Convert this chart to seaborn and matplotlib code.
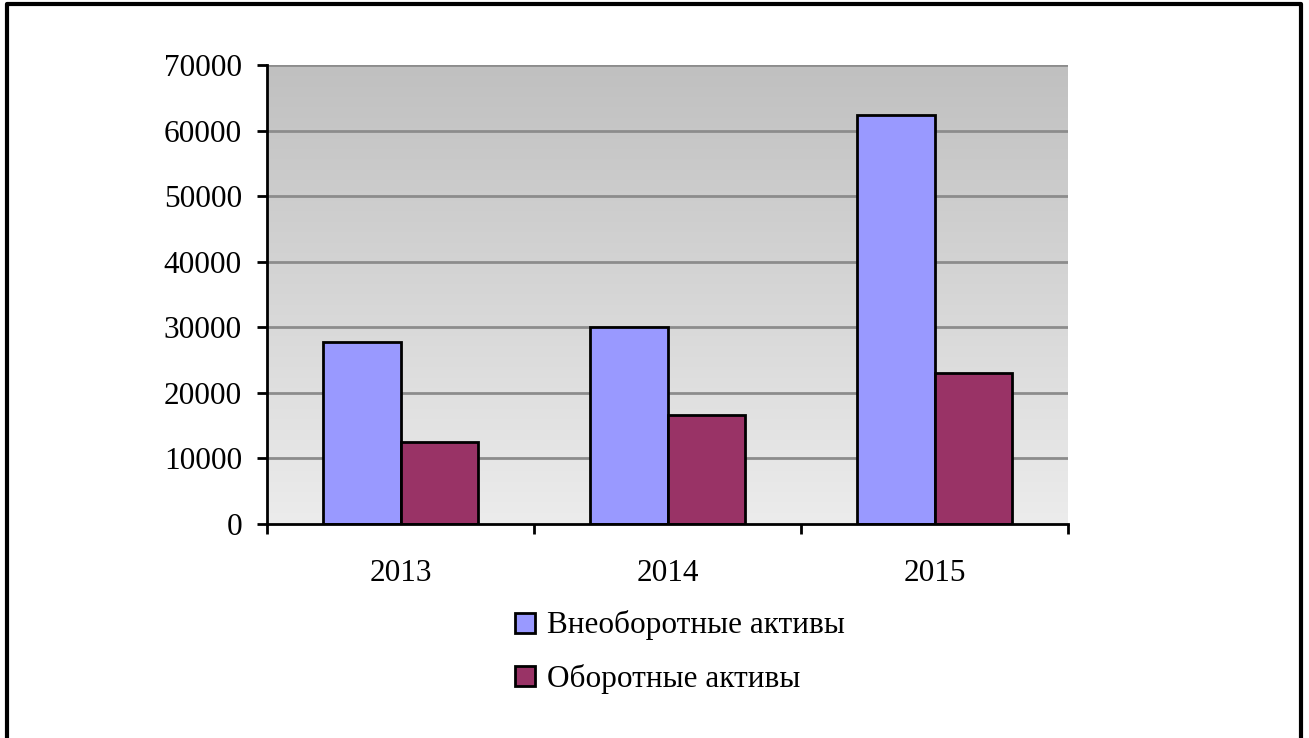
import numpy as np
import pandas as pd
import matplotlib
matplotlib.use("Agg")
import matplotlib.pyplot as plt
import seaborn as sns
from matplotlib.lines import Line2D
from matplotlib.colors import LinearSegmentedColormap

years = ["2013", "2014", "2015"]
series_names = ["Внеоборотные активы", "Оборотные активы"]
non_current = [27800, 30000, 62400]
current = [12550, 16600, 23000]
y_ticks = [0, 10000, 20000, 30000, 40000, 50000, 60000, 70000]
colors = ["#9999FF", "#993366"]

df = pd.DataFrame({
    "year": years * 2,
    "series": [series_names[0]] * 3 + [series_names[1]] * 3,
    "value": non_current + current,
})

sns.set_theme(style="white")
plt.rcParams["font.family"] = ["Liberation Serif", "DejaVu Serif"]
plt.rcParams["text.color"] = "black"
plt.rcParams["xtick.color"] = "black"
plt.rcParams["ytick.color"] = "black"
plt.rcParams["xtick.labelcolor"] = "black"
plt.rcParams["ytick.labelcolor"] = "black"

FS = 22.5

fig = plt.figure(figsize=(13.09, 7.38), dpi=100)
ax = fig.add_axes([267 / 1309, 1 - 524 / 738, (1068 - 267) / 1309, (524 - 65) / 738])

# gradient background of plot area
grad = np.linspace(0, 1, 256).reshape(-1, 1)
cmap = LinearSegmentedColormap.from_list("g", ["#c0c0c0", "#ececec"])
ax.imshow(grad, extent=[0, 1, 0, 1], transform=ax.transAxes, aspect="auto",
          cmap=cmap, zorder=0, interpolation="bilinear")

sns.barplot(data=df, x="year", y="value", hue="series", palette=colors,
            saturation=1, width=0.577, edgecolor="black", linewidth=2, ax=ax,
            zorder=3, legend=False)

ax.set_xlim(-0.5, 2.5)
ax.set_ylim(0, 70000)
ax.set_yticks(y_ticks)
ax.set_yticklabels([str(v) for v in y_ticks], fontsize=FS)
for v in y_ticks[1:]:
    ax.axhline(v, color="#8c8c8c", linewidth=2, zorder=1)

ax.set_xticks([0, 1, 2])
ax.set_xticklabels(years, fontsize=FS)
ax.tick_params(axis="x", which="major", length=0, pad=25)
ax.set_xticks([-0.5, 0.5, 1.5, 2.5], minor=True)
ax.tick_params(axis="x", which="minor", length=7, width=2, color="black", bottom=True)
ax.tick_params(axis="y", which="major", length=7, width=2, color="black", left=True, pad=11)
ax.set_xlabel("")
ax.set_ylabel("")
for s in ["top", "right"]:
    ax.spines[s].set_visible(False)
for s in ["left", "bottom"]:
    ax.spines[s].set_color("black")
    ax.spines[s].set_linewidth(2)
    ax.spines[s].set_zorder(5)

handles = [Line2D([0], [0], marker="s", linestyle="none", markersize=14,
                  markerfacecolor=c, markeredgecolor="black", markeredgewidth=2)
           for c in colors]
fig.legend(handles, series_names, loc="upper left",
           bbox_to_anchor=(497 / 1309, 1 - 598 / 738), frameon=False,
           fontsize=FS, handletextpad=0.2, labelspacing=0.75, borderaxespad=0,
           handlelength=1.0)

# outer border (top, left, right)
fig.add_artist(Line2D([7 / 1309, 7 / 1309, 1301 / 1309, 1301 / 1309],
                      [0, 1 - 4 / 738, 1 - 4 / 738, 0],
                      transform=fig.transFigure, color="black", linewidth=3))

fig.savefig("out.png", dpi=100)
